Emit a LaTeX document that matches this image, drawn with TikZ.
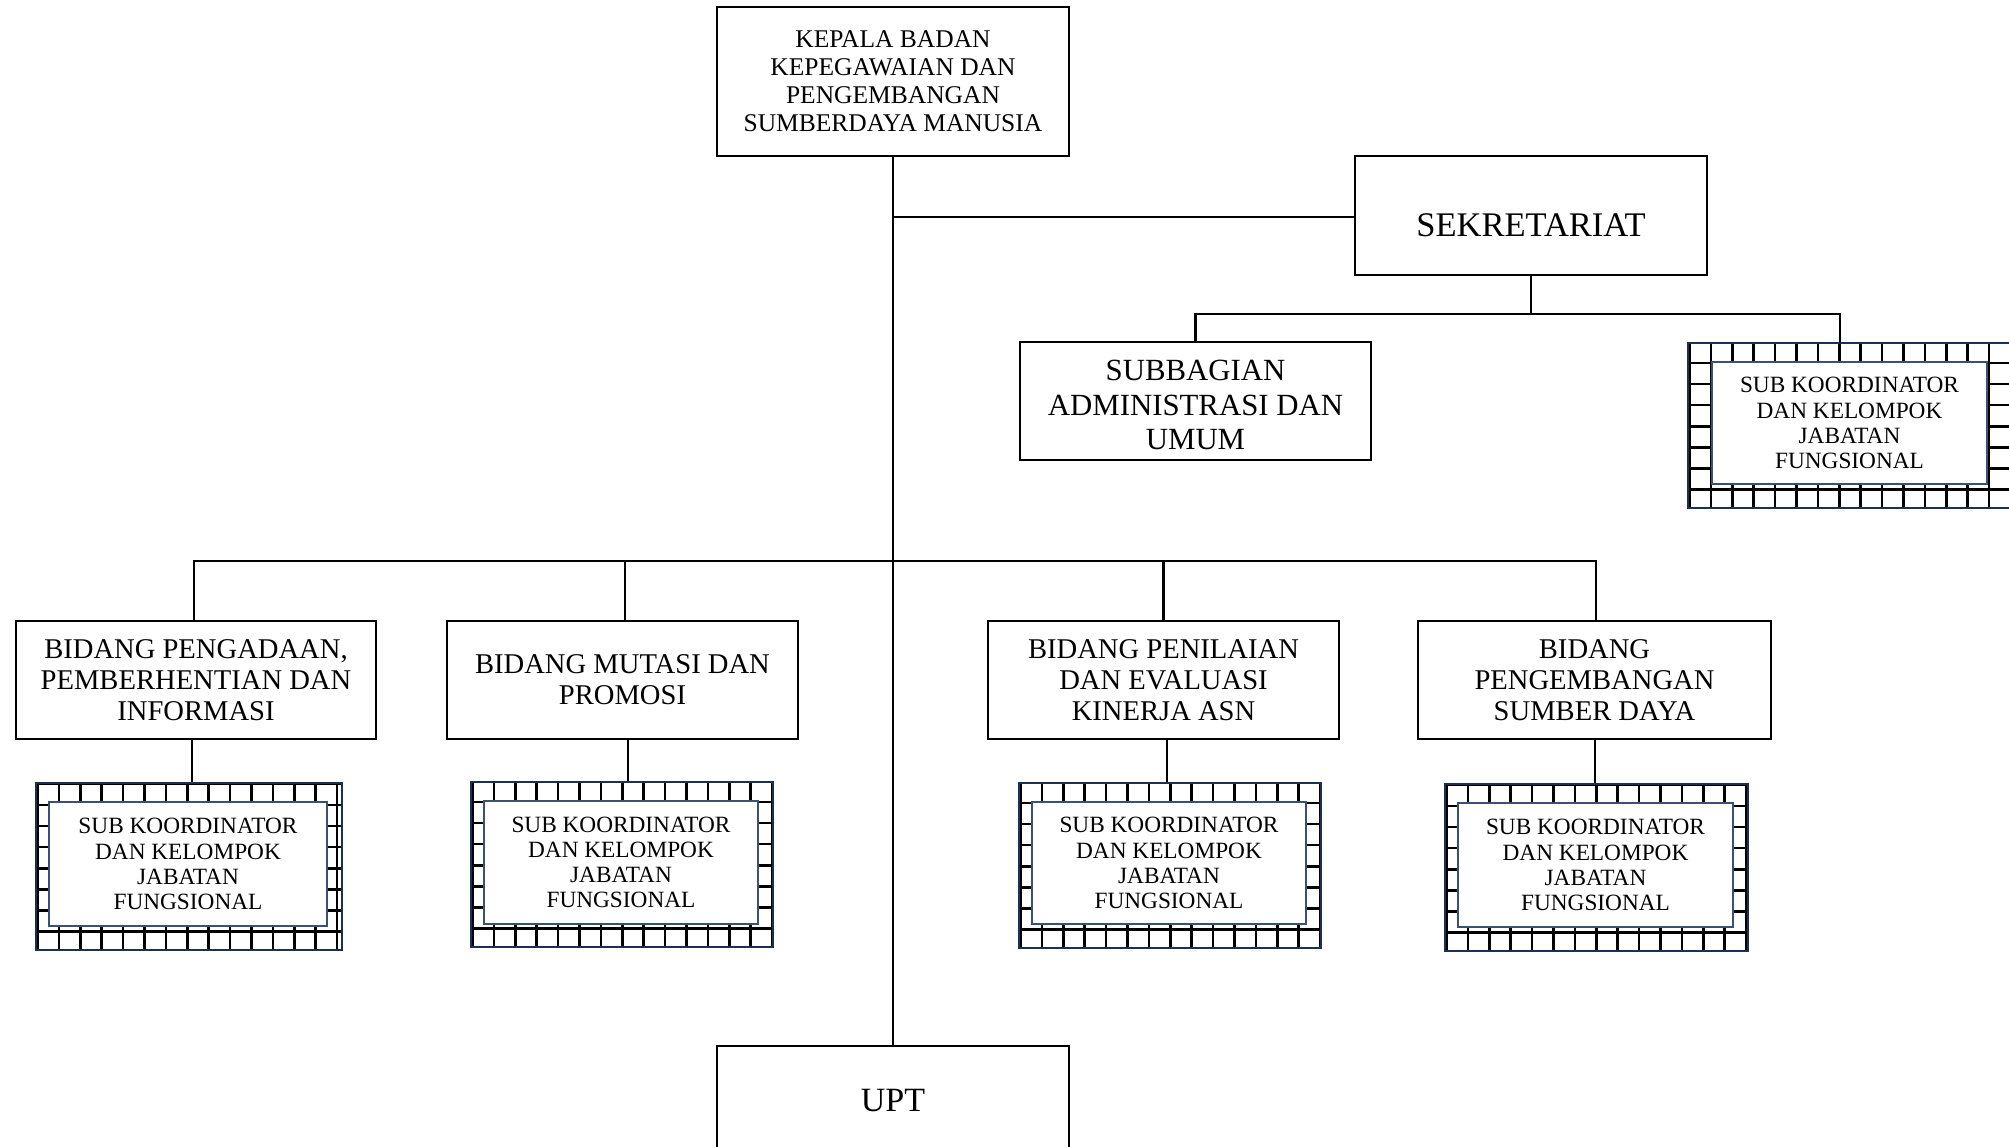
\documentclass[tikz,border=0pt]{standalone}
\usepackage{fontspec}
\setmainfont{Liberation Serif}
\usetikzlibrary{fit}
\definecolor{frameout}{RGB}{28,48,82}
\definecolor{framein}{RGB}{58,82,114}
\tikzset{
  orgbox/.style={draw=black, line width=2.8pt, fill=white, inner sep=0pt},
  conn/.style={draw=black, line width=2.8pt},
  gridln/.style={draw=black, line width=2.6pt},
  outerframe/.style={draw=frameout, line width=2.8pt, inner sep=0pt},
  innerframe/.style={draw=framein, line width=2.8pt, fill=white, inner sep=0pt},
  boxtext/.style={align=center, inner sep=0pt},
  headtxt/.style={boxtext, font=\fontsize{25.5}{28}\selectfont},
  sektxt/.style={font=\fontsize{34.5}{38}\selectfont, yshift=-10pt},
  subtxt/.style={boxtext, font=\fontsize{30.8}{34.6}\selectfont, yshift=-4pt},
  bidtxt/.style={boxtext, font=\fontsize{28.6}{31}\selectfont},
  jfutxt/.style={boxtext, font=\fontsize{23.3}{25.2}\selectfont},
  upttxt/.style={font=\fontsize{34}{38}\selectfont},
}
% hatched frame: name, left, top, right, bottom
\newcommand\hatchframe[5]{%
  \begin{scope}
    \clip (#2,#3) rectangle (#4,#5);
    \foreach \k in {0,...,16} \draw[gridln] ({#2+1.5+21.4*\k},#3) -- ({#2+1.5+21.4*\k},#5);
    \foreach \k in {0,...,8} \draw[gridln] (#2,{#5-18.5-21.1*\k}) -- (#4,{#5-18.5-21.1*\k});
  \end{scope}
  \node[outerframe, fit={(#2,#3) (#4,#5)}] (#1) {};
}
\newcommand\jfutext{SUB KOORDINATOR\\DAN KELOMPOK\\JABATAN\\FUNGSIONAL}
\begin{document}
\begin{tikzpicture}[x=1pt, y=-1pt]
\fill[white] (0,0) rectangle (2009,1147);
\useasboundingbox (0,0) rectangle (2009,1147);

% head of the agency
\node[orgbox, fit={(717,7) (1069,156)}] (kepala) {};
\node[headtxt] (kepalatext) at (kepala.center) {KEPALA BADAN\\KEPEGAWAIAN DAN\\PENGEMBANGAN\\SUMBERDAYA MANUSIA};

% secretariat and its units
\node[orgbox, fit={(1355,156) (1707,275)}] (sekretariat) {};
\node[sektxt] (sektext) at (sekretariat.center) {SEKRETARIAT};
\node[orgbox, fit={(1020,342) (1371,460)}] (subbagian) {};
\node[subtxt] (subtext) at (subbagian.center) {SUBBAGIAN\\ADMINISTRASI DAN\\UMUM};
\hatchframe{jfsek}{1688}{343}{2022}{508}
\node[innerframe, fit={(1712,362) (1987,484)}] (jfsekin) {};
\node[jfutxt] (jfsektext) at (jfsekin.center) {\jfutext};

% divisions
\node[orgbox, fit={(16,621) (376,739)}] (b1) {};
\node[bidtxt] (b1text) at (b1.center) {BIDANG PENGADAAN,\\PEMBERHENTIAN DAN\\INFORMASI};
\node[orgbox, fit={(447,621) (798,739)}] (b2) {};
\node[bidtxt] (b2text) at (b2.center) {BIDANG MUTASI DAN\\PROMOSI};
\node[orgbox, fit={(988,621) (1339,739)}] (b3) {};
\node[bidtxt] (b3text) at (b3.center) {BIDANG PENILAIAN\\DAN EVALUASI\\KINERJA ASN};
\node[orgbox, fit={(1418,621) (1771,739)}] (b4) {};
\node[bidtxt] (b4text) at (b4.center) {BIDANG\\PENGEMBANGAN\\SUMBER DAYA};

% functional groups under each division
\hatchframe{h1}{36}{783}{342}{950}
\node[innerframe, fit={(49,802) (327,926)}] (h1in) {};
\node[jfutxt] (h1text) at (h1in.center) {\jfutext};
\hatchframe{h2}{471}{782}{773}{947}
\node[innerframe, fit={(484,801) (758,924)}] (h2in) {};
\node[jfutxt] (h2text) at (h2in.center) {\jfutext};
\hatchframe{h3}{1019}{783}{1321}{948}
\node[innerframe, fit={(1032,802) (1306,924)}] (h3in) {};
\node[jfutxt] (h3text) at (h3in.center) {\jfutext};
\hatchframe{h4}{1445}{784}{1748}{951}
\node[innerframe, fit={(1458,803) (1733,927)}] (h4in) {};
\node[jfutxt] (h4text) at (h4in.center) {\jfutext};

% technical unit
\node[orgbox, fit={(717,1046) (1069,1158)}] (upt) {};
\node[upttxt] (upttext) at (893,1101) {UPT};

% connectors
\coordinate (sekjoin) at (893,217);
\coordinate (sj) at (1531,314);
\coordinate (jfsektop) at (1840,343);
\coordinate (br) at (893,561);
\draw[conn] (kepala.south) -- (upt.north);
\draw[conn] (sekjoin) -- (sekretariat.west |- sekjoin);
\draw[conn] (sekretariat.south) -- (sj);
\draw[conn] (subbagian.north) |- (sj) -| (jfsektop);
\draw[conn] (194,0 |- b1.north) |- (br) -| (1596,0 |- b4.north);
\draw[conn] (625,0 |- b2.north) -- (625,0 |- br);
\draw[conn] (b3.north) -- (b3.north |- br);
\draw[conn] (192,0 |- b1.south) -- (192,0 |- h1.north);
\draw[conn] (628,0 |- b2.south) -- (628,0 |- h2.north);
\draw[conn] (1167,0 |- b3.south) -- (1167,0 |- h3.north);
\draw[conn] (1595,0 |- b4.south) -- (1595,0 |- h4.north);
\end{tikzpicture}
\end{document}
